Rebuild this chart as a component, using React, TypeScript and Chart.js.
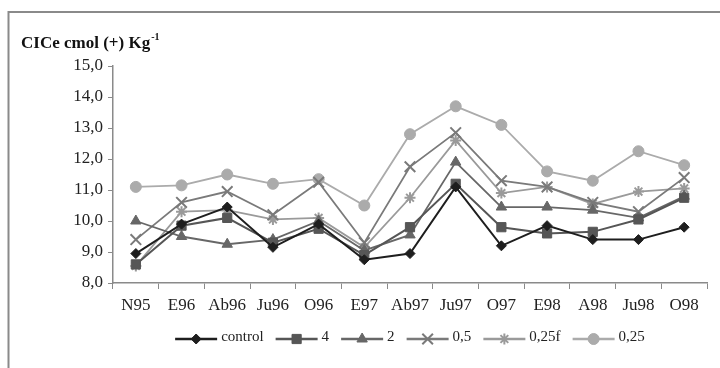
import React, { useEffect, useRef } from 'react';
import { Chart, registerables } from 'chart.js';
import { drawPoint } from 'chart.js/helpers';

Chart.register(...registerables);

const categories = ['N95', 'E96', 'Ab96', 'Ju96', 'O96', 'E97', 'Ab97', 'Ju97', 'O97', 'E98', 'A98', 'Ju98', 'O98'];
const seriesNames = ['control', '4', '2', '0,5', '0,25f', '0,25'];
const control = [8.95, 9.9, 10.45, 9.15, 9.9, 8.75, 8.95, 11.1, 9.2, 9.85, 9.4, 9.4, 9.8];
const dose4 = [8.6, 9.85, 10.1, 9.3, 9.75, 8.9, 9.8, 11.2, 9.8, 9.6, 9.65, 10.05, 10.75];
const dose2 = [10.0, 9.5, 9.25, 9.4, 10.0, 9.05, 9.55, 11.9, 10.45, 10.45, 10.35, 10.1, 10.8];
const dose05 = [9.4, 10.6, 10.95, 10.2, 11.25, 9.3, 11.75, 12.85, 11.3, 11.1, 10.6, 10.3, 11.4];
const dose025f = [8.55, 10.3, 10.35, 10.05, 10.1, 9.15, 10.75, 12.6, 10.9, 11.1, 10.55, 10.95, 11.05];
const dose025 = [11.1, 11.15, 11.5, 11.2, 11.35, 10.5, 12.8, 13.7, 13.1, 11.6, 11.3, 12.25, 11.8];
const yTicks = [8, 9, 10, 11, 12, 13, 14, 15];

const FONT = '"Liberation Serif", "Times New Roman", serif';

const styles = [
  { color: '#1e1e1e', point: 'rectRot', radius: 5, width: 2 },
  { color: '#565656', point: 'rect', radius: 6.5, width: 2 },
  { color: '#676767', point: 'triangle', radius: 6, width: 1.8 },
  { color: '#7a7a7a', point: 'crossRot', radius: 7.5, width: 1.8 },
  { color: '#9a9a9a', point: 'star', radius: 5.5, width: 1.8 },
  { color: '#ababab', point: 'circle', radius: 5.5, width: 1.8 },
];

const frame = {
  id: 'frame',
  beforeDraw(chart: any) {
    const ctx = chart.ctx;
    ctx.save();
    ctx.fillStyle = '#ffffff';
    ctx.fillRect(0, 0, chart.width, chart.height);
    ctx.strokeStyle = '#8a8a8a';
    ctx.lineWidth = 2;
    ctx.strokeRect(8.5, 12, 900, 600);
    ctx.restore();
  },
  afterDraw(chart: any) {
    const ctx = chart.ctx;
    ctx.save();
    // title
    ctx.fillStyle = '#111';
    ctx.textBaseline = 'alphabetic';
    ctx.textAlign = 'left';
    ctx.font = `bold 17px ${FONT}`;
    const t = 'CICe cmol (+) Kg';
    ctx.fillText(t, 21, 48);
    const tw = ctx.measureText(t).width;
    ctx.font = `bold 10px ${FONT}`;
    ctx.fillText('-1', 21 + tw + 1, 40);

    // legend
    ctx.font = `15px ${FONT}`;
    const lineLen = 42;
    const textGap = 4;
    const gap = 12;
    const widths = chart.data.datasets.map((d: any) => lineLen + textGap + ctx.measureText(d.label).width);
    const total = widths.reduce((a: number, b: number) => a + b, 0) + gap * (widths.length - 1);
    const cx = (chart.chartArea.left + chart.chartArea.right) / 2;
    let x = cx - total / 2;
    const y = 339;
    chart.data.datasets.forEach((d: any, i: number) => {
      ctx.strokeStyle = d.borderColor;
      ctx.lineWidth = d.borderWidth + 0.5;
      ctx.beginPath();
      ctx.moveTo(x, y);
      ctx.lineTo(x + lineLen, y);
      ctx.stroke();
      ctx.fillStyle = d.pointBackgroundColor;
      ctx.strokeStyle = d.pointBorderColor;
      ctx.lineWidth = d.pointBorderWidth;
      drawPoint(ctx, { pointStyle: d.pointStyle, radius: d.pointRadius, rotation: 0, borderWidth: d.pointBorderWidth }, x + lineLen / 2, y);
      ctx.fillStyle = '#222';
      ctx.textBaseline = 'middle';
      ctx.fillText(d.label, x + lineLen + textGap, y - 2);
      x += widths[i] + gap;
    });
    ctx.restore();
  },
};

export default function App() {
  const ref = useRef<HTMLCanvasElement | null>(null);
  useEffect(() => {
    if (!ref.current) return;
    const values = [control, dose4, dose2, dose05, dose025f, dose025];
    const chart = new Chart(ref.current, {
      type: 'line',
      data: {
        labels: categories,
        datasets: values.map((v, i) => ({
          label: seriesNames[i],
          data: v,
          borderColor: styles[i].color,
          backgroundColor: styles[i].color,
          borderWidth: styles[i].width,
          pointStyle: styles[i].point as any,
          pointRadius: styles[i].radius,
          pointHoverRadius: styles[i].radius,
          pointBackgroundColor: styles[i].color,
          pointBorderColor: styles[i].color,
          pointBorderWidth: styles[i].point === 'crossRot' || styles[i].point === 'star' ? 2 : 1,
          tension: 0,
          fill: false,
        })),
      },
      options: {
        responsive: false,
        animation: false,
        events: [],
        layout: { padding: { left: 0, top: 66, right: 13, bottom: 0 } },
        plugins: { legend: { display: false }, title: { display: false }, tooltip: { enabled: false } },
        scales: {
          x: {
            offset: true,
            grid: { display: true, drawOnChartArea: false, drawTicks: true, tickLength: 6, color: '#8a8a8a', offset: true },
            border: { display: true, color: '#8a8a8a', width: 1.5 },
            ticks: { color: '#222', font: { family: FONT, size: 17 }, padding: 6, maxRotation: 0, autoSkip: false },
            afterFit(scale: any) { scale.height = 85; },
          },
          y: {
            min: 8,
            max: 15,
            afterBuildTicks(scale: any) { scale.ticks = yTicks.map((v) => ({ value: v })); },
            grid: { display: true, drawOnChartArea: false, drawTicks: true, tickLength: 5, color: '#8a8a8a' },
            border: { display: true, color: '#8a8a8a', width: 1.5 },
            ticks: {
              color: '#222',
              font: { family: FONT, size: 17 },
              padding: 5,
              callback: (v: any) => Number(v).toFixed(1).replace('.', ','),
            },
            afterFit(scale: any) { scale.width = 113; },
          },
        },
      },
      plugins: [frame],
    });
    return () => chart.destroy();
  }, []);
  return (
    <div style={{ position: 'fixed', left: 0, top: 0, width: 720, height: 368, overflow: 'hidden', background: '#fff' }}>
      <canvas ref={ref} width={720} height={368} style={{ width: 720, height: 368, display: 'block' }} />
    </div>
  );
}
